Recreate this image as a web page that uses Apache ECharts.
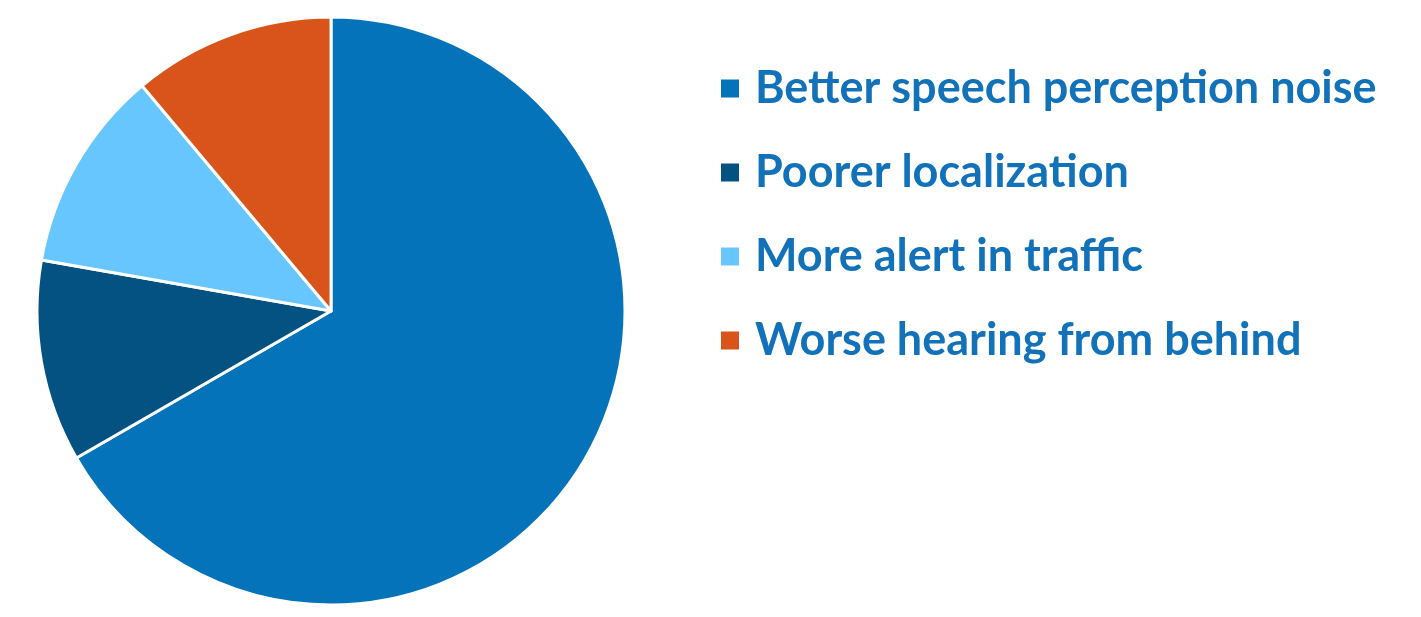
<!DOCTYPE html>
<html><head><meta charset="utf-8">
<script src="https://cdn.jsdelivr.net/npm/echarts@6/dist/echarts.min.js"></script>
<style>html,body{margin:0;padding:0;background:#fff}#c{width:1421px;height:617px}</style>
</head><body><div id="c"></div>
<script>
const categories = ["Better speech perception noise", "Poorer localization", "More alert in traffic", "Worse hearing from behind"];
const values = [6, 1, 1, 1];
const colors = ["#0573b9", "#035282", "#66c6fd", "#d8541b"];

const chart = echarts.init(document.getElementById('c'));
chart.setOption({
  animation: false,
  color: colors,
  legend: {
    orient: 'vertical',
    left: 714,
    top: 61,
    itemWidth: 20,
    itemHeight: 20,
    itemGap: 39,
    icon: 'rect',
    data: categories,
    textStyle: { color: '#1171b9', fontSize: 45, fontWeight: 'bold', fontFamily: 'Lato', padding: [0, 0, 0, 10] }
  },
  series: [{
    type: 'pie',
    center: [331, 311],
    radius: 294,
    startAngle: 90,
    clockwise: true,
    label: { show: false },
    labelLine: { show: false },
    itemStyle: { borderColor: '#fff', borderWidth: 3 },
    data: categories.map((c, i) => ({ name: c, value: values[i] }))
  }]
});
</script></body></html>
